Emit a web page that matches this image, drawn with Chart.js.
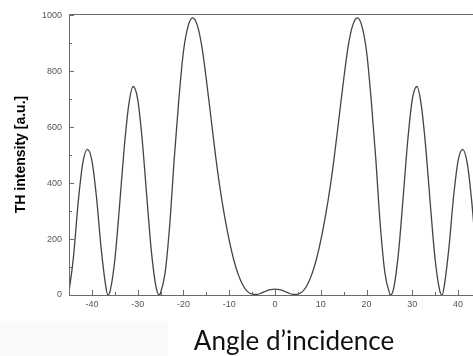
<!DOCTYPE html>
<html>
<head>
<meta charset="utf-8">
<script src="https://cdn.jsdelivr.net/npm/chart.js@4"></script>
<style>
  html, body { margin: 0; padding: 0; background: #fff; overflow: hidden; }
  #wrap { position: relative; width: 473px; height: 356px; overflow: hidden; }
  #shade { position: absolute; left: 0; top: 321px; width: 168px; height: 35px; background: #fafafa; }
  #box { position: absolute; left: 0; top: 0; width: 486px; height: 356px; }
  #xtitle {
    position: absolute; left: 183px; top: 322px; width: 222px; text-align: center;
    font-family: Lato, "Open Sans", sans-serif; font-size: 26px; color: #111; line-height: 36px;
    white-space: nowrap;
  }
</style>
</head>
<body>
<div id="wrap">
  <div id="shade"></div>
  <div id="box"><canvas id="chart"></canvas></div>
  <div id="xtitle">Angle d’incidence</div>
</div>
<script>
// angle (deg) et intensité TH
const angles = [
  -45, -44, -43, -42, -41, -40, -39, -38, -37, -36.5, -36, -35, -34, -33, -32, -31, -30, -29, -28, -27, -26, -25.3,
  -25, -24, -23, -22, -21, -20, -19, -18, -17, -16, -15, -14, -13, -12, -11, -10, -9, -8, -7, -6, -5, -4, -3, -2, -1,
  0,
  1, 2, 3, 4, 5, 6, 7, 8, 9, 10, 11, 12, 13, 14, 15, 16, 17, 18, 19, 20, 21, 22, 23, 24, 25,
  25.3, 26, 27, 28, 29, 30, 31, 32, 33, 34, 35, 36, 36.5, 37, 38, 39, 40, 41, 42, 43, 44, 45
];
const intensity = [
  10, 140, 330, 470, 520, 480, 350, 170, 35, 0, 15, 124, 310, 514, 673, 745, 700, 553, 350, 155, 30, 0,
  8, 80, 250, 490, 700, 870, 960, 990, 965, 890, 770, 635, 500, 380, 280, 195, 125, 72, 35, 12, 3, 2, 7, 14, 19,
  21,
  19, 14, 7, 2, 3, 12, 35, 72, 125, 195, 280, 380, 500, 635, 770, 890, 965, 990, 960, 870, 700, 490, 250, 80, 8,
  0, 30, 155, 350, 553, 700, 745, 673, 514, 310, 124, 15, 0, 35, 170, 350, 480, 520, 470, 330, 140, 10
];
const xTicks = [-40, -30, -20, -10, 0, 10, 20, 30, 40];
const xMinor = [-45, -35, -25, -15, -5, 5, 15, 25, 35, 45];
const yTicks = [0, 200, 400, 600, 800, 1000];
const yMinor = [100, 300, 500, 700, 900];

const points = angles.map((a, i) => ({ x: a, y: intensity[i] }));

const axisColor = '#6a6a6a';
const tickFont = { family: '"Liberation Sans", Arial, sans-serif', size: 9 };

// cadre + graduations vers l'intérieur
const framePlugin = {
  id: 'frame',
  afterDatasetsDraw(chart) {
    const ctx = chart.ctx;
    const a = chart.chartArea;
    const xs = chart.scales.x;
    const ys = chart.scales.y;
    ctx.save();
    ctx.strokeStyle = axisColor;
    ctx.lineWidth = 1;
    ctx.beginPath();
    ctx.moveTo(a.left + 0.5, a.bottom + 0.5);
    ctx.lineTo(a.left + 0.5, a.top + 0.5);
    ctx.lineTo(a.right + 0.5, a.top + 0.5);
    ctx.lineTo(a.right + 0.5, a.bottom + 0.5);
    ctx.moveTo(a.left, a.bottom + 0.5);
    ctx.lineTo(a.right, a.bottom + 0.5);
    xTicks.forEach(v => {
      const p = Math.round(xs.getPixelForValue(v)) + 0.5;
      ctx.moveTo(p, a.bottom);
      ctx.lineTo(p, a.bottom - 5);
    });
    xMinor.forEach(v => {
      const p = Math.round(xs.getPixelForValue(v)) + 0.5;
      ctx.moveTo(p, a.bottom);
      ctx.lineTo(p, a.bottom - 3);
    });
    yTicks.forEach(v => {
      const p = Math.round(ys.getPixelForValue(v)) + 0.5;
      ctx.moveTo(a.left, p);
      ctx.lineTo(a.left + 5, p);
    });
    yMinor.forEach(v => {
      const p = Math.round(ys.getPixelForValue(v)) + 0.5;
      ctx.moveTo(a.left, p);
      ctx.lineTo(a.left + 3, p);
    });
    ctx.stroke();
    ctx.restore();
  }
};

new Chart(document.getElementById('chart'), {
  type: 'line',
  data: {
    datasets: [{
      data: points,
      borderColor: '#444',
      borderWidth: 1.3,
      pointRadius: 0,
      cubicInterpolationMode: 'monotone',
      fill: false
    }]
  },
  options: {
    responsive: true,
    maintainAspectRatio: false,
    animation: false,
    events: [],
    layout: { padding: { top: 14, right: 5, left: 0, bottom: 0 } },
    plugins: { legend: { display: false }, tooltip: { enabled: false } },
    scales: {
      x: {
        type: 'linear',
        min: -45,
        max: 45,
        afterFit: s => { s.height = 61; },
        afterBuildTicks: s => { s.ticks = xTicks.map(v => ({ value: v })); },
        grid: { display: false, drawTicks: false },
        border: { display: false },
        ticks: { color: '#555', font: tickFont, padding: 4, maxRotation: 0, callback: v => String(v) }
      },
      y: {
        min: 0,
        max: 1004,
        afterFit: s => { s.width = 69; },
        afterBuildTicks: s => { s.ticks = yTicks.map(v => ({ value: v })); },
        grid: { display: false, drawTicks: false },
        border: { display: false },
        ticks: { color: '#555', font: tickFont, padding: 7, callback: v => String(v) },
        title: {
          display: true,
          text: 'TH intensity [a.u.]',
          color: '#000',
          font: { family: '"Liberation Sans", Arial, sans-serif', size: 14, weight: 'bold' },
          padding: { top: 13, bottom: 0 }
        }
      }
    }
  },
  plugins: [framePlugin]
});
</script>
</body>
</html>
